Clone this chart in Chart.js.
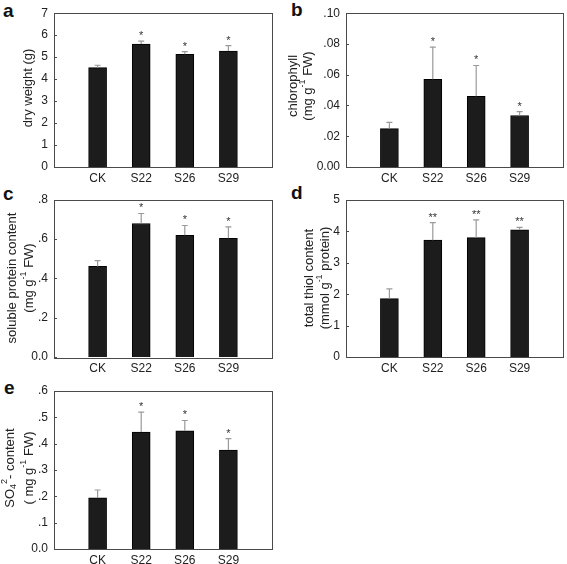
<!DOCTYPE html>
<html>
<head>
<meta charset="utf-8">
<script src="https://cdn.jsdelivr.net/npm/chart.js@4"></script>
<style>
  body { margin: 0; background: #fff; }
  #wrap { position: relative; width: 567px; height: 564px; font-family: "Liberation Sans", Arial, sans-serif; }
  #wrap canvas { position: absolute; }
  .tag { position: absolute; font-weight: bold; font-size: 19px; line-height: 19px; color: #111; }
</style>
</head>
<body>
<div id="wrap">
  <div class="tag" style="left:3px;top:1px">a</div>
  <div class="tag" style="left:291px;top:0px">b</div>
  <div class="tag" style="left:3px;top:184px">c</div>
  <div class="tag" style="left:291px;top:183px">d</div>
  <div class="tag" style="left:4px;top:378px">e</div>
</div>
<script>
// ---------------- data ----------------
const categories = ['CK', 'S22', 'S26', 'S29'];

// a: dry weight (g)
const dryWeight      = [4.52, 5.60, 5.13, 5.28];
const dryWeightTop   = [4.63, 5.73, 5.25, 5.52];   // upper end of error bar
const dryWeightStars = ['', '*', '*', '*'];
const dryWeightTicks = ['0', '1', '2', '3', '4', '5', '6', '7'];

// b: chlorophyll
const chlorophyll      = [0.025, 0.057, 0.046, 0.0335];
const chlorophyllTop   = [0.029, 0.078, 0.066, 0.036];
const chlorophyllStars = ['', '*', '*', '*'];
const chlorophyllTicks = ['0.00', '.02', '.04', '.06', '.08', '.10'];

// c: soluble protein
const protein      = [0.46, 0.678, 0.618, 0.603];
const proteinTop   = [0.49, 0.729, 0.668, 0.661];
const proteinStars = ['', '*', '*', '*'];
const proteinTicks = ['0.0', '.2', '.4', '.6', '.8'];

// d: total thiol
const thiol      = [1.86, 3.72, 3.80, 4.05];
const thiolTop   = [2.17, 4.28, 4.37, 4.13];
const thiolStars = ['', '**', '**', '**'];
const thiolTicks = ['0', '1', '2', '3', '4', '5'];

// e: sulfate
const sulfate      = [0.194, 0.444, 0.449, 0.376];
const sulfateTop   = [0.224, 0.520, 0.488, 0.419];
const sulfateStars = ['', '*', '*', '*'];
const sulfateTicks = ['0.0', '.1', '.2', '.3', '.4', '.5', '.6'];

const FONT = '"Liberation Sans", Arial, sans-serif';
const TXT = '#222';

// panels: canvas rect (page px) and plot box (page px)
const panels = [
  { x: 0, y: 0, w: 283, h: 190, box: [54, 9.5, 272, 167], max: 7, step: 1,
    mean: dryWeight, top: dryWeightTop, stars: dryWeightStars, ticks: dryWeightTicks,
    title: { size: 13, cy: 88, lines: [ { x: 28, segs: [['dry weight (g)']] } ] } },
  { x: 283, y: 0, w: 284, h: 190, box: [346, 9.5, 563, 167], max: 0.1, step: 0.02,
    mean: chlorophyll, top: chlorophyllTop, stars: chlorophyllStars, ticks: chlorophyllTicks,
    title: { size: 13, cy: 86, lines: [
      { x: 293, segs: [['chlorophyll']] },
      { x: 308, segs: [['(mg g'], ['-1', 'sup'], [' FW)']] } ] } },
  { x: 0, y: 185, w: 283, h: 190, box: [54, 199.5, 272, 357], max: 0.8, step: 0.2,
    mean: protein, top: proteinTop, stars: proteinStars, ticks: proteinTicks,
    title: { size: 13, cy: 278, lines: [
      { x: 12, segs: [['soluble protein content']] },
      { x: 29, segs: [['(mg g'], ['-1', 'sup'], [' FW)']] } ] } },
  { x: 283, y: 185, w: 284, h: 190, box: [346, 200, 563, 357], max: 5, step: 1,
    mean: thiol, top: thiolTop, stars: thiolStars, ticks: thiolTicks,
    title: { size: 13, cy: 278, lines: [
      { x: 309, segs: [['total thiol content']] },
      { x: 325, segs: [['(mmol g'], ['-1', 'sup'], [' protein)']] } ] } },
  { x: 0, y: 376, w: 283, h: 188, box: [54, 391, 272, 549], max: 0.6, step: 0.1,
    mean: sulfate, top: sulfateTop, stars: sulfateStars, ticks: sulfateTicks,
    title: { size: 13, cy: 468, lines: [
      { x: 10, segs: [['SO'], ['4', 'sub'], ['2', 'sup'], ['- content']] },
      { x: 29, segs: [['( mg g'], ['-1', 'sup'], [' FW)']] } ] } }
];

// rotated text with super/subscripts
function drawRich(ctx, segs, cx, cy, size) {
  const small = Math.round(size * 0.72);
  let total = 0;
  segs.forEach(s => {
    ctx.font = (s[1] ? small : size) + 'px ' + FONT;
    total += ctx.measureText(s[0]).width;
  });
  ctx.save();
  ctx.translate(cx, cy);
  ctx.rotate(-Math.PI / 2);
  ctx.fillStyle = TXT;
  ctx.textBaseline = 'middle';
  ctx.textAlign = 'left';
  let x = -total / 2;
  segs.forEach(s => {
    const f = s[1] ? small : size;
    ctx.font = f + 'px ' + FONT;
    let dy = 0;
    if (s[1] === 'sup') dy = -size * 0.4;
    if (s[1] === 'sub') dy = size * 0.28;
    ctx.fillText(s[0], x, dy);
    x += ctx.measureText(s[0]).width;
  });
  ctx.restore();
}

function framePlugin(p) {
  return {
    id: 'frame',
    afterDatasetsDraw(chart) {
      const ctx = chart.ctx;
      const ys = chart.scales.y;
      const bars = chart.getDatasetMeta(0).data;
      ctx.save();
      p.mean.forEach((m, i) => {
        const el = bars[i + 1];
        const yTop = ys.getPixelForValue(p.top[i]);
        ctx.strokeStyle = '#9a9a9a';
        ctx.lineWidth = 1.2;
        ctx.beginPath();
        ctx.moveTo(el.x, el.y);
        ctx.lineTo(el.x, yTop);
        ctx.moveTo(el.x - 3, yTop);
        ctx.lineTo(el.x + 3, yTop);
        ctx.stroke();
        if (p.stars[i]) {
          ctx.fillStyle = '#333';
          ctx.font = '11px ' + FONT;
          ctx.textAlign = 'center';
          ctx.textBaseline = 'alphabetic';
          ctx.fillText(p.stars[i], el.x, yTop - 2);
        }
      });
      ctx.restore();
    },
    afterDraw(chart) {
      const ctx = chart.ctx;
      const a = chart.chartArea;
      const ys = chart.scales.y;
      ctx.save();
      ctx.strokeStyle = '#4a4a4a';
      ctx.lineWidth = 1;
      ctx.strokeRect(Math.round(a.left) + 0.5, Math.round(a.top) + 0.5,
        Math.round(a.right - a.left), Math.round(a.bottom - a.top));
      ctx.beginPath();
      ys.ticks.forEach(t => {
        const y = Math.round(ys.getPixelForValue(t.value)) + 0.5;
        ctx.moveTo(a.left, y);
        ctx.lineTo(a.left + 3, y);
      });
      ctx.stroke();
      ctx.restore();
      p.title.lines.forEach(l => drawRich(ctx, l.segs, l.x - p.x, p.title.cy - p.y, p.title.size));
    }
  };
}

const wrap = document.getElementById('wrap');
panels.forEach(p => {
  const canvas = document.createElement('canvas');
  canvas.width = p.w;
  canvas.height = p.h;
  canvas.style.left = p.x + 'px';
  canvas.style.top = p.y + 'px';
  wrap.appendChild(canvas);
  const l = p.box[0] - p.x, t = p.box[1] - p.y, r = p.box[2] - p.x, b = p.box[3] - p.y;
  new Chart(canvas, {
    type: 'bar',
    data: {
      labels: ['', ...categories, ''],
      datasets: [{
        data: [null, ...p.mean, null],
        backgroundColor: '#1c1c1c',
        borderColor: '#000',
        borderWidth: 1,
        barThickness: 18
      }]
    },
    options: {
      responsive: false,
      animation: false,
      layout: { padding: { left: 0, top: t, right: p.w - r, bottom: 0 } },
      plugins: { legend: { display: false }, tooltip: { enabled: false } },
      scales: {
        x: {
          offset: false,
          grid: { display: false, drawTicks: false, tickLength: 0 },
          border: { display: false },
          ticks: { autoSkip: false, maxRotation: 0, padding: 4, color: TXT, font: { family: FONT, size: 12 } },
          afterFit: s => { s.height = p.h - b; }
        },
        y: {
          min: 0,
          max: p.max,
          grid: { display: false, drawTicks: false, tickLength: 0 },
          border: { display: false },
          ticks: {
            stepSize: p.step,
            padding: 6,
            color: TXT,
            font: { family: FONT, size: 12 },
            callback: (v, i) => p.ticks[i] !== undefined ? p.ticks[i] : v
          },
          afterFit: s => { s.width = l; }
        }
      }
    },
    plugins: [framePlugin(p)]
  });
});
</script>
</body>
</html>
